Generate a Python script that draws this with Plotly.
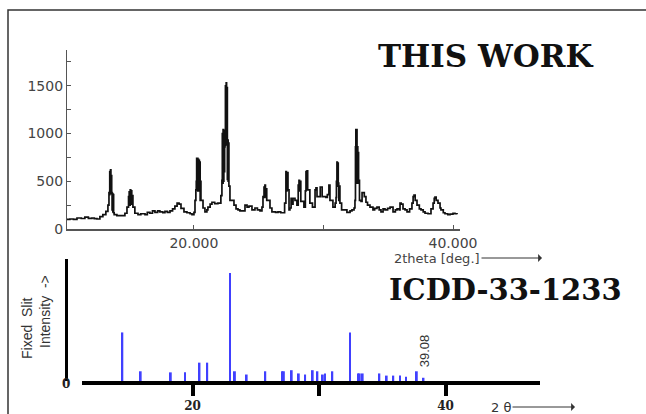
import plotly.graph_objects as go

W, H = 646, 414


def px(x):
    return x / W


def py(y):
    return 1 - y / H


# ---- measured XRD pattern ("THIS WORK") ----
theta = [
    10.19, 10.42, 10.70, 10.97, 11.30, 11.58, 11.85, 12.12, 12.30, 12.51, 12.74, 12.97, 13.20, 13.36, 13.44,
    13.47, 13.50, 13.53, 13.56, 13.59, 13.62, 13.65, 13.68, 13.71, 13.74, 13.77, 13.80, 13.84,
    14.05, 14.44, 14.67, 14.83, 14.95, 15.00, 15.04, 15.08, 15.12, 15.16, 15.20, 15.24, 15.29,
    15.44, 15.68, 15.90, 16.22, 16.40, 16.60, 16.80, 16.99, 17.20, 17.37, 17.60, 17.76, 17.95,
    18.15, 18.35, 18.53, 18.70, 18.85, 19.00, 19.23, 19.46, 19.70, 19.85, 20.00, 20.08, 20.15,
    20.18, 20.21, 20.24, 20.27, 20.30, 20.33, 20.36, 20.39, 20.42, 20.45, 20.48, 20.51, 20.54,
    20.62, 20.70, 20.85, 21.00, 21.08, 21.25, 21.39, 21.60, 21.85, 22.01, 22.08, 22.16,
    22.19, 22.22, 22.25, 22.28, 22.31, 22.34, 22.37, 22.40, 22.43, 22.46, 22.49, 22.52, 22.55,
    22.58, 22.61, 22.64, 22.67, 22.70, 22.78, 22.86, 23.09, 23.25, 23.40, 23.55, 23.71, 23.94,
    24.10, 24.25, 24.48, 24.71, 24.90, 25.10, 25.25, 25.33, 25.41, 25.45, 25.48, 25.52, 25.56,
    25.62, 25.71, 25.87, 26.02, 26.30, 26.49, 26.70, 26.87, 27.00, 27.10, 27.14, 27.18, 27.26,
    27.34, 27.41, 27.50, 27.57, 27.65, 27.80, 27.95, 28.05, 28.11, 28.15, 28.19, 28.25, 28.34,
    28.49, 28.60, 28.65, 28.69, 28.73, 28.78, 28.88, 28.95, 29.03, 29.15, 29.27, 29.35, 29.42,
    29.50, 29.65, 29.75, 29.81, 29.90, 29.96, 30.19, 30.30, 30.42, 30.50, 30.58, 30.73, 30.90,
    30.97, 31.00, 31.04, 31.07, 31.10, 31.14, 31.18, 31.22, 31.27, 31.40, 31.51, 31.81, 32.05,
    32.20, 32.36, 32.43, 32.47, 32.50, 32.53, 32.56, 32.59, 32.62, 32.65, 32.68, 32.71, 32.74,
    32.78, 32.82, 32.90, 32.98, 33.05, 33.15, 33.28, 33.40, 33.59, 33.82, 33.95, 34.13, 34.30,
    34.44, 34.60, 34.75, 34.95, 35.14, 35.37, 35.55, 35.68, 35.85, 35.91, 36.00, 36.14, 36.30,
    36.45, 36.65, 36.83, 36.92, 36.99, 37.08, 37.22, 37.40, 37.53, 37.70, 37.84, 38.07, 38.30,
    38.46, 38.55, 38.61, 38.70, 38.84, 39.00, 39.07, 39.25, 39.38, 39.60, 39.77, 40.00, 40.15, 40.31,
]
counts = [
    100, 105, 100, 115, 110, 125, 112, 115, 108, 105, 130, 150, 185, 250, 380,
    360, 600, 380, 620, 370, 560, 380, 200, 370, 180, 360, 170, 150,
    140, 140, 165, 230, 340, 390, 250, 410, 300, 400, 260, 350, 230,
    165, 150, 160, 150, 175, 165, 190, 175, 190, 180, 170, 185, 175,
    190, 210, 240, 270, 260, 215, 180, 170, 160, 150, 175, 300, 410,
    500, 740, 420, 740, 400, 730, 430, 720, 400, 700, 300, 500, 300,
    300, 220, 180, 200, 230, 260, 280, 265, 270, 270, 350, 510,
    1000, 480, 1040, 500, 1030, 600, 860, 900, 1500, 880, 1530, 900, 1480,
    520, 930, 500, 900, 450, 300, 300, 250, 210, 200, 190, 190, 250,
    230, 240, 200, 220, 200, 190, 230, 340, 440, 330, 460, 340, 420,
    300, 300, 220, 180, 175, 180, 170, 170, 270, 600, 400, 590, 410,
    200, 220, 320, 260, 320, 300, 250, 460, 510, 400, 500, 290, 290,
    230, 400, 600, 420, 610, 410, 410, 270, 270, 230, 230, 410, 430,
    340, 340, 440, 440, 340, 340, 330, 360, 460, 300, 300, 230, 270,
    330, 500, 700, 450, 690, 480, 300, 450, 270, 200, 200, 175, 190,
    200, 220, 300, 860, 1040, 500, 1040, 480, 860, 480, 800, 500, 510,
    300, 300, 290, 380, 380, 340, 280, 250, 230, 200, 215, 230, 200,
    180, 210, 200, 215, 230, 180, 200, 210, 200, 270, 260, 210, 200,
    180, 210, 270, 340, 355, 300, 250, 210, 200, 180, 165, 160, 210,
    270, 320, 335, 300, 270, 220, 200, 170, 160, 150, 155, 165, 160, 155,
]

# ---- reference pattern ICDD-33-1233 (relative intensity) ----
ref_theta = [14.45, 15.90, 18.28, 19.40, 20.55, 21.16, 22.96, 23.35, 24.28, 25.75,
             27.10, 27.22, 27.84, 28.40, 28.90, 29.50, 29.87, 30.30, 30.47, 31.05,
             32.45, 33.10, 33.22, 33.45, 34.77, 35.35, 35.87, 36.40, 36.88, 37.73, 38.26]
ref_int = [45, 9, 8, 8, 17, 17, 100, 9, 6, 9,
           9, 9, 10, 7, 6, 10, 9, 6, 7, 9,
           45, 7, 7, 7, 7, 5, 5, 5, 4, 9, 3]

top_yticks = [0, 250, 500, 750, 1000, 1250, 1500, 1750]
top_ylabels = ["0", "", "500", "", "1000", "", "1500", ""]
top_xticks = [20, 30, 40]
top_xlabels = ["20.000", "", "40.000"]
bot_xticks = [20, 30, 40]
bot_xlabels = ["20", "", "40"]

fig = go.Figure()
fig.add_trace(go.Scatter(
    x=theta, y=counts, mode="lines",
    line=dict(color="#111111", width=1.7, shape="hv"),
    xaxis="x", yaxis="y", showlegend=False, hoverinfo="skip"))
fig.add_trace(go.Bar(
    x=ref_theta, y=ref_int, width=0.15,
    marker=dict(color="#4040ff", line=dict(width=0)),
    xaxis="x2", yaxis="y2", showlegend=False, hoverinfo="skip"))

tick_font = dict(family="DejaVu Sans", size=14, color="#444444")
bold_serif = dict(family="DejaVu Serif", size=12, color="#222222", weight="bold")


def label(text, x, y, font, **kw):
    d = dict(text=text, x=x, y=y, xref="paper", yref="paper", showarrow=False,
             xanchor="center", yanchor="middle", font=font)
    d.update(kw)
    return d


fig.update_layout(
    width=W, height=H,
    margin=dict(l=0, r=0, t=0, b=0, autoexpand=False),
    paper_bgcolor="white", plot_bgcolor="white",
    showlegend=False,
    xaxis=dict(domain=[px(67), px(460)], range=[10.2, 40.54], anchor="y",
               showline=True, linecolor="#555555", linewidth=1.5,
               ticks="inside", ticklen=4, tickcolor="#555555",
               tickvals=top_xticks, ticktext=top_xlabels, tickfont=tick_font,
               showgrid=False, zeroline=False, automargin=False),
    yaxis=dict(domain=[py(229), py(50)], range=[0, 1875], anchor="x",
               showline=True, linecolor="#555555", linewidth=1.2,
               ticks="inside", ticklen=4, tickcolor="#555555",
               tickvals=top_yticks, ticktext=top_ylabels, tickfont=tick_font,
               showgrid=False, zeroline=False, automargin=False),
    xaxis2=dict(domain=[px(82), px(540)], range=[11.26, 47.47], anchor="y2",
                showline=True, linecolor="black", linewidth=4,
                ticks="outside", ticklen=11, tickwidth=4, tickcolor="black",
                tickvals=bot_xticks, ticktext=bot_xlabels, tickfont=bold_serif,
                showgrid=False, zeroline=False, automargin=False),
    yaxis2=dict(domain=[py(381), py(259)], range=[0, 113], anchor="free",
                position=px(66), showline=True, linecolor="black", linewidth=3,
                showticklabels=False, ticks="", showgrid=False, zeroline=False,
                automargin=False),
    shapes=[dict(type="rect", xref="paper", yref="paper",
                 x0=px(8), y0=py(430), x1=px(660), y1=py(10),
                 line=dict(color="#333333", width=1.5))],
    annotations=[
        label("THIS WORK", px(486), py(56),
              dict(family="DejaVu Serif", size=31, color="#111111", weight="bold")),
        label("ICDD-33-1233", px(387), py(290),
              dict(family="DejaVu Serif", size=29, color="#111111", weight="bold"),
              xanchor="left"),
        dict(text="39.08", x=38.34, y=28, xref="x2", yref="y2", textangle=-90,
             xanchor="center", yanchor="middle", showarrow=False,
             font=dict(family="Liberation Sans", size=13, color="#333333")),
        label("0", px(66), py(384), bold_serif),
        label("Fixed  Slit", px(27), py(328),
              dict(family="Liberation Sans", size=14, color="#333333"), textangle=-90),
        label("Intensity  ->", px(45), py(312),
              dict(family="Liberation Sans", size=14, color="#333333"), textangle=-90),
        dict(text="2theta [deg.]", x=px(542), y=py(258), xref="paper", yref="paper",
             ax=-105, ay=0, showarrow=True, arrowhead=1, arrowsize=1.3, arrowwidth=1,
             arrowcolor="#333333",
             font=dict(family="DejaVu Sans", size=13, color="#444444")),
        dict(text="2 θ", x=px(575), y=py(407), xref="paper", yref="paper",
             ax=-74, ay=0, showarrow=True, arrowhead=1, arrowsize=1.3, arrowwidth=1,
             arrowcolor="#333333",
             font=dict(family="DejaVu Sans", size=13, color="#333333")),
    ],
)

fig.write_html("out.html")
